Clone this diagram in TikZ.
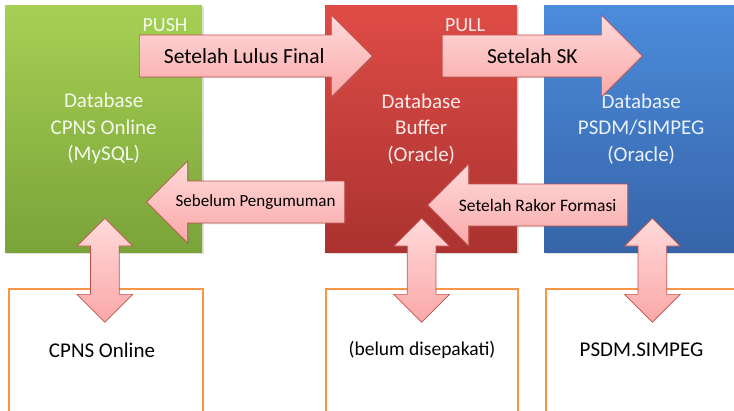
\documentclass[tikz,border=0pt]{standalone}
\usepackage{fontspec}
\setmainfont{Carlito}
\usepackage{tikz}
\usetikzlibrary{shapes.arrows, positioning, calc, shadows}
\definecolor{greentop}{RGB}{166,208,84}
\definecolor{greenbot}{RGB}{122,163,57}
\definecolor{redtop}{RGB}{223,76,70}
\definecolor{redbot}{RGB}{170,50,48}
\definecolor{bluetop}{RGB}{76,140,220}
\definecolor{bluebot}{RGB}{54,100,168}
\definecolor{arrowtop}{RGB}{255,218,218}
\definecolor{arrowbot}{RGB}{250,168,168}
\definecolor{arrowline}{RGB}{192,80,77}
\definecolor{appline}{RGB}{247,150,70}

\begin{document}
\begin{tikzpicture}[x=1pt, y=-1pt,
  dbbox/.style={rectangle, anchor=north west, minimum width=197pt, minimum height=247pt,
                align=center, inner sep=0pt, font=\fontsize{21}{26.5}\selectfont,
                drop shadow={opacity=0.25, shadow xshift=1.5pt, shadow yshift=-1.5pt}},
  modelabel/.style={font=\fontsize{20}{24}\selectfont, inner sep=0pt},
  flowarrow/.style={single arrow, draw=arrowline, line width=0.7pt, top color=arrowtop, bottom color=arrowbot,
                    single arrow head extend=20pt, minimum width=82pt, inner xsep=0pt, inner ysep=20.5pt,
                    anchor=tail, drop shadow={opacity=0.2, shadow xshift=1.5pt, shadow yshift=-1.5pt}},
  flowlabel/.style={inner sep=0pt, text=black},
  syncarrow/.style={double arrow, shape border rotate=90, draw=arrowline, line width=0.7pt,
                    top color=arrowtop, bottom color=arrowbot, double arrow head extend=13.5pt,
                    minimum width=55pt, minimum height=104pt, inner xsep=14pt, inner ysep=0pt},
  appbox/.style={rectangle, anchor=north west, draw=appline, line width=2pt, minimum height=160pt},
  applabel/.style={inner sep=0pt, font=\fontsize{21}{25}\selectfont}
]
\useasboundingbox (0,0) rectangle (734,410);
\clip (0,0) rectangle (734,410);

% database boxes
\node[dbbox, top color=greentop, bottom color=greenbot, text=white!88!greentop] (cpnsdb) at (5,5)
  {Database\\CPNS Online\\(MySQL)};
\node[dbbox, minimum width=192pt, top color=redtop, bottom color=redbot, text=white!88!redtop] (bufferdb) at (325,5)
  {Database\\Buffer\\(Oracle)};
\node[dbbox, minimum width=194pt, top color=bluetop, bottom color=bluebot, text=white!88!bluetop] (simpegdb) at (544,5)
  {Database\\PSDM/SIMPEG\\(Oracle)};

\node[modelabel, text=white!88!greentop] (push) at (165,25) {PUSH};
\node[modelabel, text=white!88!redtop] (pull) at (465,25) {PULL};

% flow arrows between databases
\node[flowarrow, minimum height=233pt] (lulus) at (139,56) {};
\node[flowlabel, font=\fontsize{21.5}{25}\selectfont] (lulust) at ($(lulus.tail)!0.45!(lulus.tip)$) {Setelah Lulus Final};
\node[flowarrow, minimum height=200pt] (sk) at (442,56) {};
\node[flowlabel, font=\fontsize{21.5}{25}\selectfont] (skt) at ($(sk.tail)!0.45!(sk.tip)$) {Setelah SK};
\node[flowarrow, shape border rotate=180, minimum height=198pt] (umum) at (345,202) {};
\node[flowlabel, font=\fontsize{17}{20}\selectfont] (umumt) at ($(umum.tail)!0.45!(umum.tip)$) {Sebelum Pengumuman};
\node[flowarrow, shape border rotate=180, minimum height=200pt] (rakor) at (628,205) {};
\node[flowlabel, font=\fontsize{17.5}{21}\selectfont] (rakort) at ($(rakor.tail)!0.45!(rakor.tip)$) {Setelah Rakor Formasi};

% applications
\node[appbox, minimum width=194pt] (cpnsapp) at (8,288) {};
\node[appbox, minimum width=192pt] (bufferapp) at (325,288) {};
\node[appbox, minimum width=207pt] (simpegapp) at (545,288) {};
\node[applabel] (cpnsappt) at ($(cpnsapp.north)+(-4,62)$) {CPNS Online};
\node[applabel, font=\fontsize{19.5}{24}\selectfont] (bufferappt) at ($(bufferapp.north)+(0,62)$) {(belum disepakati)};
\node[applabel] (simpegappt) at ($(simpegapp.north)+(-8,62)$) {PSDM.SIMPEG};

% sync arrows
\node[syncarrow] (cpnssync) at ($(cpnsdb.south)!0.5!(cpnsapp.north)$) {};
\node[syncarrow] (buffersync) at ($(bufferdb.south)!0.5!(bufferapp.north)$) {};
\node[syncarrow] (simpegsync) at ($(simpegdb.south)!0.5!(simpegapp.north)+(7,0)$) {};
\end{tikzpicture}
\end{document}
